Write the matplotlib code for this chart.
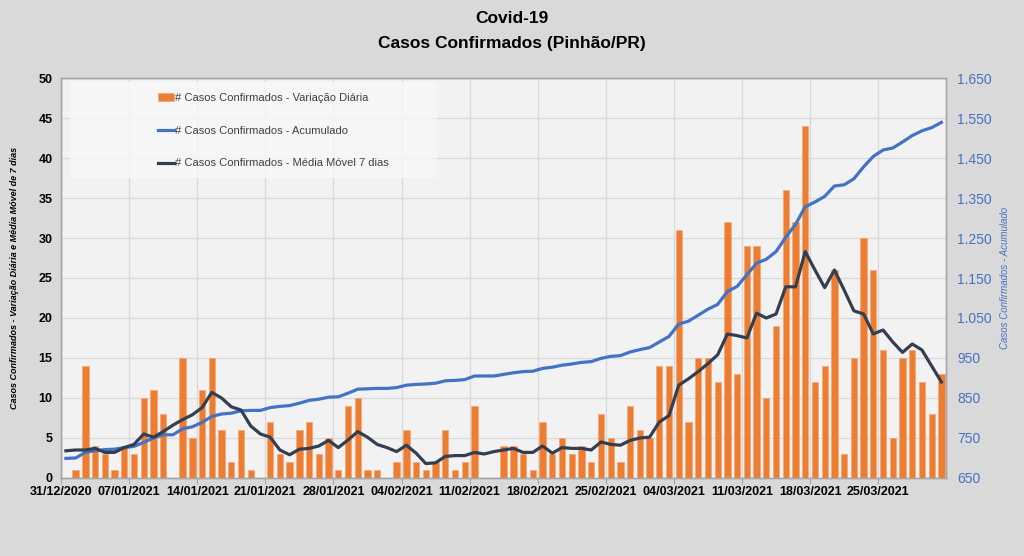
import numpy as np
import matplotlib
matplotlib.use("Agg")
import matplotlib.pyplot as plt
import matplotlib.dates as mdates
from matplotlib.patches import Rectangle
from matplotlib.ticker import FuncFormatter, MultipleLocator, FixedLocator

plt.rcParams['font.family'] = ['Liberation Sans Narrow', 'Liberation Sans', 'DejaVu Sans']

# dias de 31/12/2020 a 31/03/2021
start = np.datetime64('2020-12-31')
days = start + np.arange(91)

daily = [0, 1, 14, 4, 3, 1, 4, 3, 10, 11, 8, 0, 15, 5, 11, 15, 6, 2, 6, 1,
         0, 7, 3, 2, 6, 7, 3, 5, 1, 9, 10, 1, 1, 0, 2, 6, 2, 1, 2, 6,
         1, 2, 9, 0, 0, 4, 4, 3, 1, 7, 3, 5, 3, 4, 2, 8, 5, 2, 9, 6,
         5, 14, 14, 31, 7, 15, 15, 12, 32, 13, 29, 29, 10, 19, 36, 32, 44, 12, 14, 26,
         3, 15, 30, 26, 16, 5, 15, 16, 12, 8, 13]

acumulado = [699, 700, 714, 718, 721, 722, 726, 729, 739, 750, 758, 758, 773, 778, 789, 804, 810, 812, 818, 819,
             819, 826, 829, 831, 837, 844, 847, 852, 853, 862, 872, 873, 874, 874, 876, 882, 884, 885, 887, 893,
             894, 896, 905, 905, 905, 909, 913, 916, 917, 924, 927, 932, 935, 939, 941, 949, 954, 956, 965, 971,
             976, 990, 1004, 1035, 1042, 1057, 1072, 1084, 1116, 1129, 1158, 1187, 1197, 1216, 1252, 1284, 1328, 1340, 1354, 1380,
             1383, 1398, 1428, 1454, 1470, 1475, 1490, 1506, 1518, 1526, 1539]

media7 = [3.4, 3.5, 3.5, 3.7, 3.2, 3.2, 3.8, 4.2, 5.5, 5.1, 5.8, 6.6, 7.3, 7.9, 8.8, 10.7, 10.0, 8.9, 8.5, 6.5,
          5.5, 5.1, 3.5, 2.9, 3.6, 3.7, 4.0, 4.7, 3.8, 4.75, 5.8, 5.1, 4.2, 3.8, 3.3, 4.1, 3.1, 1.8, 1.9, 2.7,
          2.8, 2.8, 3.2, 3.0, 3.3, 3.5, 3.7, 3.2, 3.2, 4.0, 3.1, 3.8, 3.7, 3.7, 3.5, 4.5, 4.2, 4.1, 4.7, 5.0,
          5.1, 7.0, 7.8, 11.6, 12.4, 13.3, 14.3, 15.4, 18.0, 17.8, 17.5, 20.6, 20.0, 20.5, 23.9, 23.9, 28.3, 26.0, 23.8, 26.0,
          23.5, 20.9, 20.5, 18.0, 18.5, 17.0, 15.7, 16.75, 16.0, 14.0, 12.0]

acum_ticks = [650, 750, 850, 950, 1050, 1150, 1250, 1350, 1450, 1550, 1650]

# cada dia fica no meio do intervalo entre as marcas
x = mdates.date2num(days.astype(object)) + 0.5
x0 = mdates.date2num(start.astype(object))

fig = plt.figure(figsize=(10.24, 5.56), dpi=100, facecolor='#d9d9d9')
ax = fig.add_axes([0.0596, 0.1403, 0.8645, 0.7194])
ax.set_facecolor('#f2f2f2')
ax2 = ax.twinx()
ax2.patch.set_visible(False)

bars = ax.bar(x, daily, width=0.65, color='#ed7d31', edgecolor='#f4a576', linewidth=0.5, zorder=2,
              label='# Casos Confirmados - Variação Diária')
l_ac, = ax2.plot(x, acumulado, color='#4472c4', lw=2.3, zorder=3,
                 label='# Casos Confirmados - Acumulado')
l_ma, = ax2.plot(x, media7, color='#333f50', lw=2.3, zorder=4,
                 transform=ax.transData, label='# Casos Confirmados - Média Móvel 7 dias')

ax.set_xlim(x0, x0 + 91)
ax.set_ylim(0, 50)
ax2.set_ylim(650, 1650)

ax.set_xticks([x0 + 7 * i for i in range(13)])
ax.xaxis.set_major_formatter(mdates.DateFormatter('%d/%m/%Y'))
ax.yaxis.set_major_locator(MultipleLocator(5))
ax2.yaxis.set_major_locator(FixedLocator(acum_ticks))
ax2.yaxis.set_major_formatter(FuncFormatter(lambda v, p: f'{int(v):,}'.replace(',', '.')))

ax.grid(True, color='#d9d9d9', lw=0.9, zorder=0)
ax.set_axisbelow(True)

for a in (ax, ax2):
    for s in a.spines.values():
        s.set_color('#a6a6a6')
        s.set_linewidth(1.0)

ax.tick_params(axis='x', length=4, color='#a6a6a6', labelsize=9, pad=2)
ax.tick_params(axis='y', length=0, labelsize=9, pad=6)
ax2.tick_params(axis='y', length=0, labelsize=10, pad=8, labelcolor='#4472c4')
for lab in ax.get_xticklabels() + ax.get_yticklabels():
    lab.set_fontweight('bold')

ax.set_ylabel('Casos Confirmados - Variação Diária e Média Móvel de 7 dias', fontsize=6.5,
              fontweight='bold', fontstyle='italic', labelpad=14)
ax2.set_ylabel('Casos Confirmados - Acumulado', fontsize=7, fontstyle='italic',
               color='#4472c4', labelpad=6)

fig.text(0.5, 0.966, 'Covid-19', ha='center', va='center', fontsize=12.5, fontweight='bold')
fig.text(0.5, 0.921, 'Casos Confirmados (Pinhão/PR)', ha='center', va='center', fontsize=12.5,
         fontweight='bold')

# caixa da legenda
ax.add_patch(Rectangle((0.01, 0.75), 0.415, 0.24, transform=ax.transAxes,
                       facecolor='#f8f8f8', edgecolor='none', alpha=0.8, zorder=1))
handles = [bars, l_ac, l_ma]
leg = ax2.legend(handles, [h.get_label() for h in handles], loc='upper left',
                 bbox_to_anchor=(0.099, 0.985), frameon=False, fontsize=8, labelspacing=2.05,
                 handlelength=1.5, handleheight=0.6, handletextpad=0.1, borderpad=0.3)
for t in leg.get_texts():
    t.set_color('#404040')

fig.savefig('out.png', dpi=100, facecolor=fig.get_facecolor())
